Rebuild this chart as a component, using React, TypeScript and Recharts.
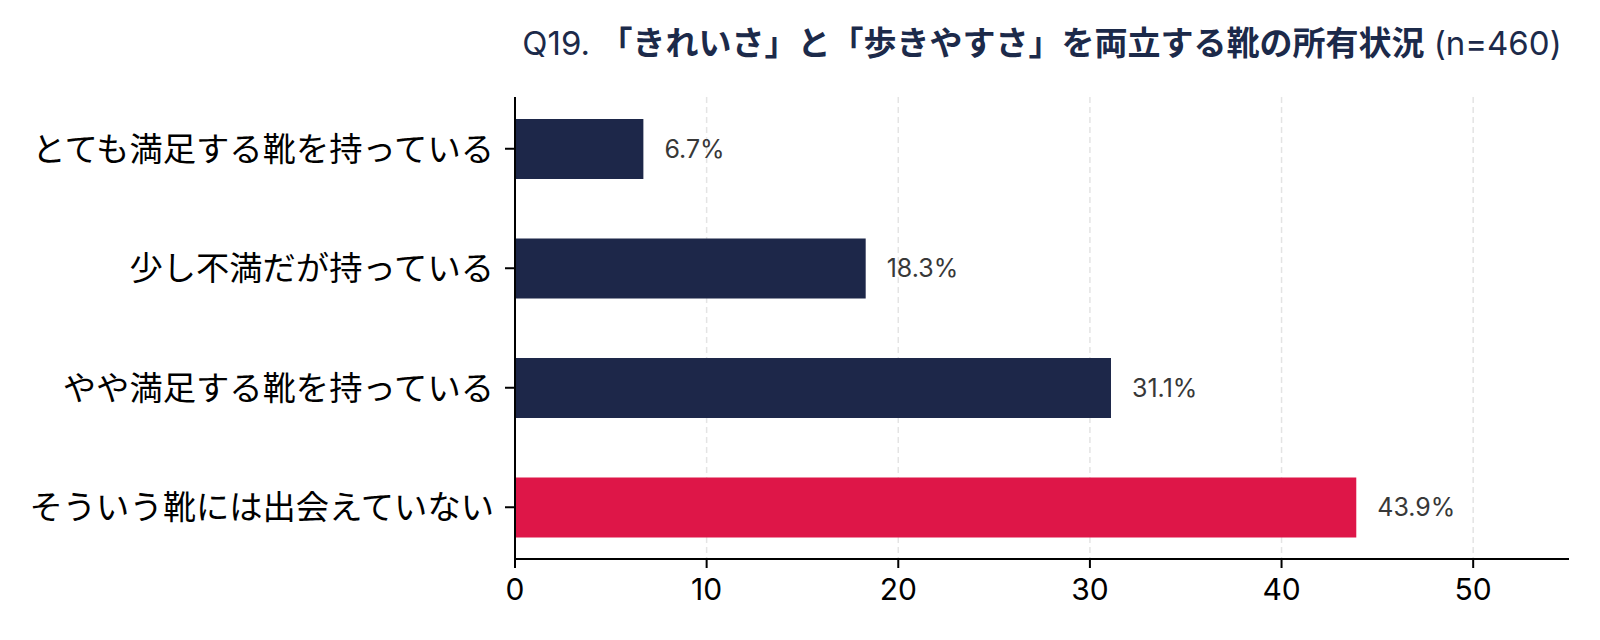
import { Bar, BarChart, CartesianGrid, Cell, LabelList, XAxis, YAxis } from "recharts";

const categories = [
  "とても満足する靴を持っている",
  "少し不満だが持っている",
  "やや満足する靴を持っている",
  "そういう靴には出会えていない",
];
const shares = [6.7, 18.3, 31.1, 43.9];
const barColors = ["#1d2749", "#1d2749", "#1d2749", "#de1648"];
const xTicks = [0, 10, 20, 30, 40, 50];

const data = categories.map((name, i) => ({ name, value: shares[i] }));

const FONT = '"Inter", "Noto Sans CJK JP", sans-serif';

export default function App() {
  return (
    <div style={{ position: "relative", width: 1592, height: 632, fontFamily: FONT }}>
      <div
        style={{
          position: "absolute",
          left: 507,
          width: 1054,
          top: 17,
          lineHeight: "36px",
          textAlign: "center",
          fontSize: 33,
          color: "#1c2a4a",
          whiteSpace: "nowrap",
        }}
      >
        <span>Q19. </span>
        <span style={{ fontWeight: 700 }}>「きれいさ」と「歩きやすさ」を両立する靴の所有状況</span>
        <span> (n=460)</span>
      </div>
      <BarChart
        width={1592}
        height={632}
        data={data}
        layout="vertical"
        margin={{ top: 89, right: 31, bottom: 31, left: 0 }}
        barSize={60}
      >
        <CartesianGrid
          horizontal={false}
          syncWithTicks
          stroke="#e4e4e4"
          strokeWidth={1.5}
          strokeDasharray="6 4"
        />
        <XAxis
          type="number"
          domain={[0, 55]}
          ticks={xTicks}
          height={50}
          stroke="#000"
          tickSize={9}
          tickMargin={11}
          tick={{ fontSize: 30, fill: "#000", fontFamily: FONT }}
          axisLine={{ stroke: "#000", strokeWidth: 2 }}
          tickLine={{ stroke: "#000", strokeWidth: 2 }}
        />
        <YAxis
          type="category"
          dataKey="name"
          width={507}
          padding={{ top: -8, bottom: -8 }}
          stroke="#000"
          tickSize={10}
          tickMargin={11}
          tick={{ fontSize: 33.3, fill: "#000", fontFamily: FONT }}
          axisLine={{ stroke: "#000", strokeWidth: 2 }}
          tickLine={{ stroke: "#000", strokeWidth: 2 }}
        />
        <Bar dataKey="value" isAnimationActive={false}>
          {data.map((d, i) => (
            <Cell key={d.name} fill={barColors[i]} />
          ))}
          <LabelList
            dataKey="value"
            position="right"
            offset={21}
            formatter={(v: number) => `${v.toFixed(1)}%`}
            style={{ fontSize: 25, fill: "#383838", fontFamily: FONT }}
          />
        </Bar>
      </BarChart>
    </div>
  );
}
